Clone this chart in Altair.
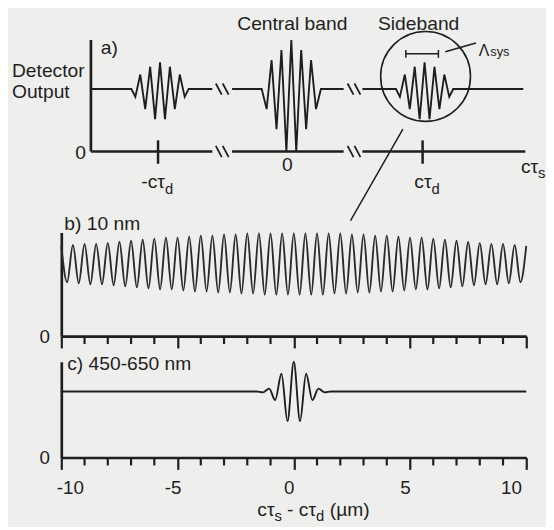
import altair as alt
import pandas as pd

INK = "#1e1e1e"
BG = "#eeeeec"
FONT = "Liberation Sans"
FS = 19.5

# ---------------- panel a (schematic units) ----------------
A_SIG_X = [0, 41, 45, 50, 55, 60, 65, 70, 75, 80, 85, 90, 95, 99, 123,
           143, 173, 178, 183, 188, 193, 198, 203, 208, 213, 218, 223, 228, 233, 256,
           275, 309, 313, 318, 323, 328, 333, 338, 343, 348, 353, 358, 363, 367, 438]
A_SIG_Y = [0.56, 0.56, 0.49, 0.69, 0.38, 0.76, 0.29, 0.80, 0.29, 0.76, 0.38, 0.69, 0.49, 0.56, 0.56,
           0.56, 0.56, 0.38, 0.82, 0.20, 0.91, 0.0, 1.0, 0.0, 0.91, 0.20, 0.82, 0.38, 0.56, 0.56,
           0.56, 0.56, 0.49, 0.69, 0.38, 0.76, 0.29, 0.80, 0.29, 0.76, 0.38, 0.69, 0.49, 0.56, 0.56]
A_SIG_SEG = [1] * 15 + [2] * 15 + [3] * 15

A_AXIS_X = [0, 143, 275]
A_AXIS_X2 = [123, 256, 440]

A_SLASH_X0 = [126.5, 133.5, 260, 267, 126.5, 133.5, 260, 267]
A_SLASH_X1 = [132.5, 139.5, 266, 273, 132.5, 139.5, 266, 273]
A_SLASH_Y0 = [0.05, 0.05, 0.05, 0.05, 0.61, 0.61, 0.61, 0.61]
A_SLASH_Y1 = [-0.05, -0.05, -0.05, -0.05, 0.51, 0.51, 0.51, 0.51]

A_TICK_X = [68, 336]
A_CIRCLE_X = [339]
A_CIRCLE_Y = [0.673]

# lines: connector, bracket, caps, leader
A_LN_X0 = [316, 319, 319, 352, 359]
A_LN_X1 = [263, 352, 319, 352, 390]
A_LN_Y0 = [0.20, 0.876, 0.84, 0.84, 0.894]
A_LN_Y1 = [-0.62, 0.876, 0.91, 0.91, 0.973]

# ---------------- panel b ----------------
B_PEAK_X = [-10, -9.5, -9, -8.5, -8, -7.5, -7, -6.5, -6, -5.5, -5, -4.5, -4, -3.5, -3, -2.5, -2, -1.5, -1, -0.5,
            0, 0.5, 1, 1.5, 2, 2.5, 3, 3.5, 4, 4.5, 5, 5.5, 6, 6.5, 7, 7.5, 8, 8.5, 9, 9.5, 10]
B_PEAK_Y = [0.87, 0.88, 0.89, 0.89, 0.90, 0.91, 0.92, 0.93, 0.94, 0.95, 0.95, 0.96, 0.97, 0.97, 0.98, 0.98,
            0.99, 0.99, 0.99, 0.99, 0.99, 0.99, 0.99, 0.99, 0.99, 0.98, 0.98, 0.97, 0.97, 0.96, 0.95, 0.95,
            0.94, 0.93, 0.92, 0.91, 0.90, 0.89, 0.89, 0.88, 0.87]
B_TROUGH_X = [-9.75, -9.25, -8.75, -8.25, -7.75, -7.25, -6.75, -6.25, -5.75, -5.25, -4.75, -4.25, -3.75,
              -3.25, -2.75, -2.25, -1.75, -1.25, -0.75, -0.25, 0.25, 0.75, 1.25, 1.75, 2.25, 2.75, 3.25,
              3.75, 4.25, 4.75, 5.25, 5.75, 6.25, 6.75, 7.25, 7.75, 8.25, 8.75, 9.25, 9.75]
B_TROUGH_Y = [0.52, 0.51, 0.50, 0.50, 0.49, 0.48, 0.47, 0.46, 0.45, 0.45, 0.44, 0.43, 0.43, 0.42, 0.42,
              0.41, 0.41, 0.40, 0.40, 0.40, 0.40, 0.40, 0.40, 0.41, 0.41, 0.42, 0.42, 0.43, 0.43, 0.44,
              0.45, 0.45, 0.46, 0.47, 0.48, 0.49, 0.50, 0.50, 0.51, 0.52]

# ---------------- panel c ----------------
C_X = [-10, -1.6, -1.33, -1.06, -0.8, -0.53, -0.27, 0, 0.27, 0.53, 0.8, 1.06, 1.33, 1.6, 10]
C_Y = [0.69, 0.69, 0.68, 0.72, 0.60, 0.875, 0.38, 1.0, 0.38, 0.875, 0.60, 0.72, 0.68, 0.69, 0.69]

MAJOR_TICKS = [-10, -5, 0, 5, 10]
MINOR_TICKS = [-9, -8, -7, -6, -4, -3, -2, -1, 1, 2, 3, 4, 6, 7, 8, 9]

W = 471
HA, HB, HC = 169, 105, 97

AX = alt.Scale(domain=[0, 440], range=[30, 470], nice=False, zero=False)
AY = alt.Scale(domain=[0, 1], range=[113, 0], nice=False, zero=False)


def txt(s, x, y, size=FS, align="left"):
    return alt.Chart(alt.Data(values=[{}])).mark_text(
        text=s, fontSize=size, font=FONT, color=INK, align=align, baseline="alphabetic"
    ).encode(x=alt.value(x), y=alt.value(y))


# ---- panel a layers
df_sig = pd.DataFrame({"x": A_SIG_X, "y": A_SIG_Y, "seg": A_SIG_SEG, "i": range(len(A_SIG_X))})
sig = alt.Chart(df_sig).mark_line(color=INK, strokeWidth=1.9).encode(
    x=alt.X("x:Q", scale=AX, axis=None), y=alt.Y("y:Q", scale=AY, axis=None),
    detail="seg:N", order="i:Q")

df_ax = pd.DataFrame({"x": A_AXIS_X, "x2": A_AXIS_X2, "y": [0] * 3})
axseg = alt.Chart(df_ax).mark_rule(color=INK, strokeWidth=2.7).encode(
    x=alt.X("x:Q", scale=AX, axis=None), x2="x2:Q", y=alt.Y("y:Q", scale=AY, axis=None))

df_yax = pd.DataFrame({"x": [0], "y": [0], "y2": [1]})
yax = alt.Chart(df_yax).mark_rule(color=INK, strokeWidth=2.7).encode(
    x=alt.X("x:Q", scale=AX, axis=None), y=alt.Y("y:Q", scale=AY, axis=None), y2="y2:Q")

df_sl = pd.DataFrame({"x": A_SLASH_X0, "x2": A_SLASH_X1, "y": A_SLASH_Y0, "y2": A_SLASH_Y1})
slashes = alt.Chart(df_sl).mark_rule(color=INK, strokeWidth=1.8).encode(
    x=alt.X("x:Q", scale=AX, axis=None), x2="x2:Q",
    y=alt.Y("y:Q", scale=AY, axis=None), y2="y2:Q")

df_tk = pd.DataFrame({"x": A_TICK_X, "y": [-0.11, -0.11], "y2": [0.10, 0.10]})
aticks = alt.Chart(df_tk).mark_rule(color=INK, strokeWidth=2.5).encode(
    x=alt.X("x:Q", scale=AX, axis=None), y=alt.Y("y:Q", scale=AY, axis=None), y2="y2:Q")

df_c = pd.DataFrame({"x": A_CIRCLE_X, "y": A_CIRCLE_Y})
circ = alt.Chart(df_c).mark_point(shape="circle", filled=False, size=8281, strokeWidth=1.6,
                                  color=INK, opacity=1).encode(
    x=alt.X("x:Q", scale=AX, axis=None), y=alt.Y("y:Q", scale=AY, axis=None))

df_ln = pd.DataFrame({"x": A_LN_X0, "x2": A_LN_X1, "y": A_LN_Y0, "y2": A_LN_Y1})
lines = alt.Chart(df_ln).mark_rule(color=INK, strokeWidth=1.5).encode(
    x=alt.X("x:Q", scale=AX, axis=None), x2="x2:Q",
    y=alt.Y("y:Q", scale=AY, axis=None), y2="y2:Q")

a_texts = [
    txt("Central band", 234, -10, align="center"),
    txt("Sideband", 362, -10, align="center"),
    txt("a)", 40, 14),
    txt("Detector", -50, 38),
    txt("Output", -50, 59),
    txt("0", 25, 121, align="right"),
    txt("0", 229, 133, align="center"),
    txt("-cτ", 105, 150, align="right"),
    txt("d", 105, 156, size=15),
    txt("cτ", 375, 150, align="right"),
    txt("d", 375, 156, size=15),
    txt("cτ", 483, 135, align="right"),
    txt("s", 483, 140, size=15),
    txt("Λ", 423, 16, size=16),
    txt("sys", 434.5, 16, size=13),
]

panel_a = alt.layer(axseg, yax, sig, slashes, aticks, circ, lines, *a_texts).properties(width=W, height=HA)

# ---- panel b
df_b = pd.DataFrame({"x": B_PEAK_X + B_TROUGH_X, "y": B_PEAK_Y + B_TROUGH_Y}).sort_values("x")
XS = alt.Scale(domain=[-10, 10], nice=False, zero=False)
YS = alt.Scale(domain=[0, 1], nice=False, zero=False)
yaxis = alt.Axis(values=[0], ticks=False, tickSize=0, labelPadding=12, title=None, grid=False,
                 domainWidth=2.7, labelFontSize=19)


def xaxis(labels):
    return alt.Axis(values=MAJOR_TICKS, tickSize=12, tickWidth=2.2, labels=labels, labelPadding=9,
                    labelFontSize=19, labelOffset=-5, title=None, grid=False, domainWidth=2.7,
                    labelExpr="datum.value < 0 ? '-' + abs(datum.value) : '' + datum.value")


df_minor = pd.DataFrame({"x": MINOR_TICKS})

b_line = alt.Chart(df_b).mark_line(color="#2a2a2a", strokeWidth=1.9, interpolate="monotone").encode(
    x=alt.X("x:Q", scale=XS, axis=xaxis(False)), y=alt.Y("y:Q", scale=YS, axis=yaxis))
b_minor = alt.Chart(df_minor).mark_rule(color=INK, strokeWidth=2.2).encode(
    x=alt.X("x:Q", scale=XS, axis=xaxis(False)), y=alt.value(HB), y2=alt.value(HB + 8))
panel_b = alt.layer(b_line, b_minor, txt("b) 10 nm", 3, -2)).properties(width=W, height=HB)

# ---- panel c
df_cc = pd.DataFrame({"x": C_X, "y": C_Y})
c_line = alt.Chart(df_cc).mark_line(color=INK, strokeWidth=1.9, interpolate="monotone").encode(
    x=alt.X("x:Q", scale=XS, axis=xaxis(True)), y=alt.Y("y:Q", scale=YS, axis=yaxis))
c_minor = alt.Chart(df_minor).mark_rule(color=INK, strokeWidth=2.2).encode(
    x=alt.X("x:Q", scale=XS, axis=xaxis(True)), y=alt.value(HC), y2=alt.value(HC + 8))
c_texts = [
    txt("c) 450-650 nm", 6, 8),
    txt("cτ", 216, 156, align="right"),
    txt("s", 216, 161, size=15),
    txt("- cτ", 258, 156, align="right"),
    txt("d", 258, 161, size=15),
    txt("(µm)", 272, 156),
]
panel_c = alt.layer(c_line, c_minor, *c_texts).properties(width=W, height=HC)

chart = alt.vconcat(panel_a, panel_b, panel_c, spacing=26, bounds="flush").properties(
    padding={"left": 4, "top": 3, "right": 0, "bottom": 0}, background=BG
).configure_view(strokeWidth=0).configure_axis(
    labelFont=FONT, labelColor=INK, domainColor=INK, tickColor=INK
)

chart.save("out.html", embed_options={"renderer": "svg", "actions": False})
